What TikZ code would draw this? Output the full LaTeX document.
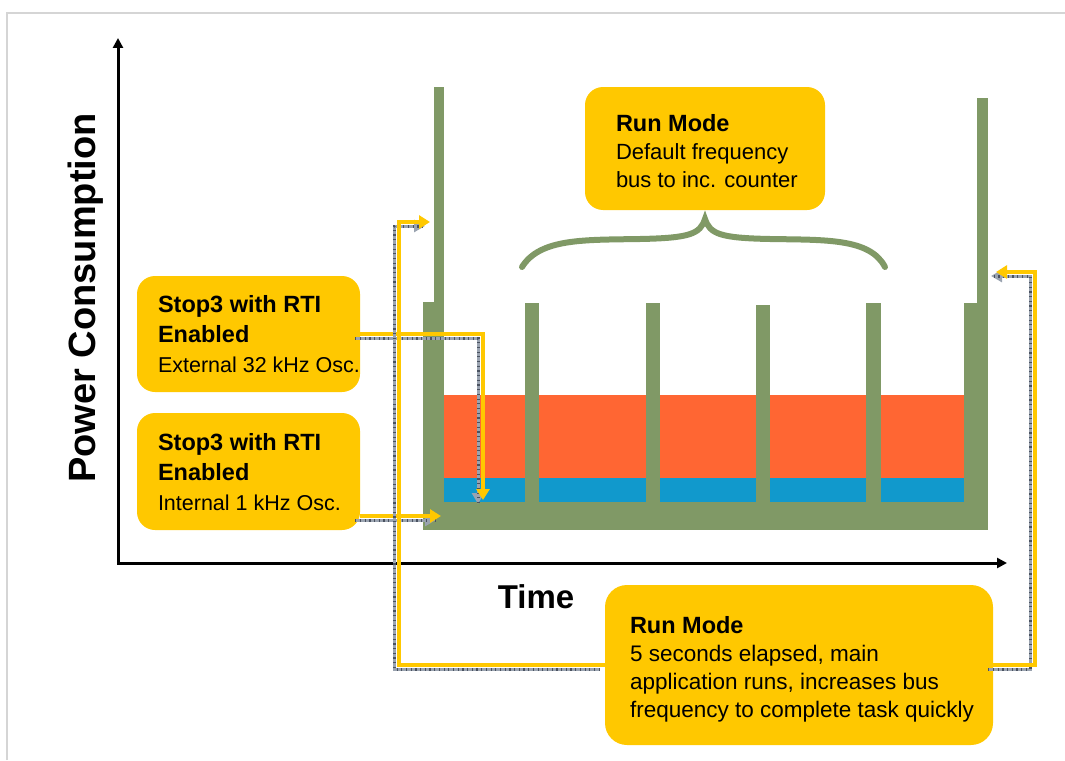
\documentclass[tikz,border=0pt]{standalone}
\usepackage{fontspec}
\setmainfont{Liberation Sans}
\newfontfamily\axisfont{Liberation Sans}
\usetikzlibrary{arrows.meta}
\definecolor{chartgreen}{HTML}{809966}
\definecolor{chartorange}{HTML}{FF6633}
\definecolor{chartblue}{HTML}{1199CC}
\definecolor{boxyellow}{HTML}{FFC800}
\definecolor{shadowgray}{HTML}{9AA3B0}
\definecolor{tickgray}{HTML}{4A5260}
\definecolor{framegray}{HTML}{D5D5D5}
\newcommand\drawconn[1]{%
  \draw[shadowline] #1;
  \draw[shadowticks] #1;
  \draw[yellowline] #1;}
\newcommand\hdline[1]{{\fontsize{23.5}{28}\selectfont\bfseries #1}}
\begin{document}
\begin{tikzpicture}[x=1pt,y=-1pt,
  infobox/.style={fill=boxyellow, rounded corners=18pt, inner sep=0pt},
  boxtext/.style={anchor=west, align=left, inner sep=0pt, text=black,
    font=\fontsize{22.5}{28}\selectfont},
  axisline/.style={line width=3pt, black, {Triangle[length=10pt,width=10pt]}-{Triangle[length=10pt,width=10pt]}},
  shadowline/.style={line width=3pt, shadowgray, transform canvas={shift={(-5pt,-4pt)}},
    -{Triangle[length=11pt,width=12pt]}},
  shadowticks/.style={line width=3pt, tickgray, dash pattern=on 1.2pt off 3.5pt,
    transform canvas={shift={(-5pt,-4pt)}}},
  yellowline/.style={line width=4.5pt, boxyellow, -{Triangle[length=11pt,width=13pt]}},
  bar/.style={fill=chartgreen}
]
\useasboundingbox (0,0) rectangle (1065,760);
% frame
\draw[framegray, line width=1.5pt] (7,760) -- (7,13) -- (1065,13);

% axes
\coordinate (ytop) at (118,38);
\coordinate (xend) at (1007,563);
\draw[axisline] (ytop) |- (xend);
\node[rotate=90, font=\axisfont\bfseries\fontsize{38}{40}\selectfont] (ylab) at (86,298) {Power Consumption};
\node[font=\axisfont\bfseries\fontsize{33}{36}\selectfont] (xlab) at (536,597) {Time};

% chart bands
\fill[chartorange] (444,395) rectangle (964,478);
\fill[chartblue] (444,478) rectangle (964,502);
% green structure
\fill[bar] (423,502) rectangle (988,530);
\fill[bar] (423,302) rectangle (444,530);
\fill[bar] (434,87) rectangle (444,303);
\fill[bar] (964,303) rectangle (988,530);
\fill[bar] (977,98) rectangle (988,304);
\fill[bar] (525,303) rectangle (539,503);
\fill[bar] (646,303) rectangle (660,503);
\fill[bar] (756,305) rectangle (770,503);
\fill[bar] (866,303) rectangle (881,503);

% brace
\coordinate (bracetip) at (705,219);
\draw[chartgreen, line width=6pt, line cap=round]
  (522,267) .. controls (540,238) and (585,240) .. (640,239)
  .. controls (690,238) and (700,234) .. (bracetip)
  .. controls (710,234) and (720,238) .. (770,239)
  .. controls (825,240) and (870,238) .. (885,267);

% boxes
\node[infobox, minimum width=240pt, minimum height=123pt] (rtop) at (705,148.5) {};
\node[boxtext, font=\fontsize{22}{28}\selectfont] (rtoptext) at ([xshift=31pt,yshift=-3pt]rtop.west)
  {\hdline{Run Mode}\\Default frequency\\bus to inc. counter};

\node[infobox, minimum width=223pt, minimum height=116pt] (s1) at (248.5,334) {};
\node[boxtext, font=\fontsize{21.5}{30}\selectfont] (s1text) at ([xshift=21pt]s1.west)
  {\hdline{Stop3 with RTI}\\\hdline{Enabled}\\External 32 kHz Osc.};

\node[infobox, minimum width=223pt, minimum height=117pt] (s2) at (248.5,471.5) {};
\node[boxtext, font=\fontsize{21.5}{30}\selectfont] (s2text) at ([xshift=21pt,yshift=-1pt]s2.west)
  {\hdline{Stop3 with RTI}\\\hdline{Enabled}\\Internal 1 kHz Osc.};

\node[infobox, rounded corners=22pt, minimum width=388pt, minimum height=160pt] (rb) at (799,665) {};
\node[boxtext] (rbtext) at ([xshift=25pt,yshift=-4pt]rb.west)
  {\hdline{Run Mode}\\5 seconds elapsed, main\\application runs, increases bus\\frequency to complete task quickly};

% connectors
\coordinate (t1) at (483,500);
\coordinate (t2) at (441,516);
\coordinate (k3) at (399,222);
\coordinate (t3) at (430,222);
\coordinate (k4) at (1035,272);
\coordinate (t4) at (996,272);
\drawconn{(s1.east) -| (t1)}
\drawconn{(s2.east |- t2) -- (t2)}
\drawconn{(rb.west) -| (k3) -- (t3)}
\drawconn{(rb.east) -| (k4) -- (t4)}
\end{tikzpicture}
\end{document}
